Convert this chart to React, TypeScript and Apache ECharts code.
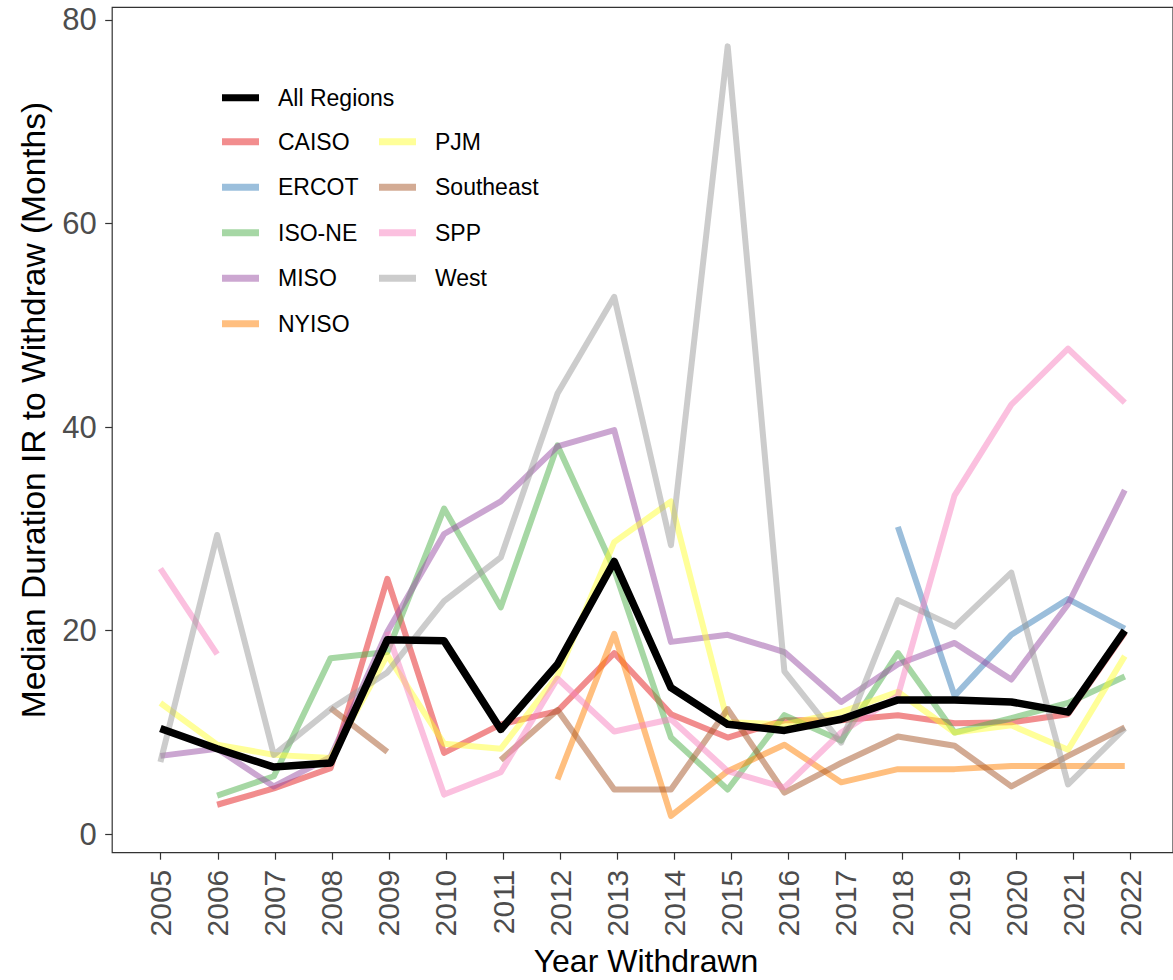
import React, { useEffect, useRef } from "react";
import * as echarts from "echarts";

const years = [2005, 2006, 2007, 2008, 2009, 2010, 2011, 2012, 2013, 2014, 2015, 2016, 2017, 2018, 2019, 2020, 2021, 2022];

const allRegions = [10.4, 8.4, 6.6, 7.0, 19.1, 19.0, 10.3, 16.7, 26.8, 14.4, 10.8, 10.2, 11.3, 13.2, 13.2, 13.0, 12.0, 20.0];
const caiso = [null, 2.9, 4.5, 6.5, 25.1, 8.0, 10.8, 12.1, 17.8, 11.8, 9.5, 11.2, 11.2, 11.7, 10.9, 11.0, 11.8, 19.8];
const ercot = [null, null, null, null, null, null, null, null, null, null, null, null, null, 30.2, 13.6, 19.6, 23.1, 20.2];
const isoNe = [null, 3.8, 5.7, 17.3, 17.9, 32.0, 22.3, 38.2, 26.0, 9.5, 4.4, 11.7, 9.2, 17.8, 10.0, 11.4, 12.9, 15.5];
const miso = [7.7, 8.4, 4.7, 7.6, 19.9, 29.5, 32.7, 38.1, 39.7, 18.9, 19.6, 17.9, 13.0, 16.7, 18.8, 15.2, 22.6, 33.8];
const nyiso = [null, null, null, null, null, null, null, 5.4, 19.7, 1.8, 6.2, 8.8, 5.1, 6.4, 6.4, 6.7, 6.7, 6.7];
const pjm = [12.9, 8.8, 7.8, 7.5, 17.6, 8.9, 8.4, 15.6, 28.7, 32.7, 11.0, 10.8, 12.0, 14.0, 10.0, 10.7, 8.3, 17.5];
const southeast = [null, null, null, 12.4, 8.1, null, 7.3, 12.2, 4.4, 4.4, 12.3, 4.1, 7.0, 9.6, 8.7, 4.7, 7.7, 10.5];
const spp = [26.1, 17.7, null, null, 19.9, 3.9, 6.1, 15.3, 10.1, 11.3, 6.2, 4.6, 10.0, 13.6, 33.3, 42.2, 47.7, 42.4];
const west = [7.1, 29.4, 7.8, 12.3, 15.9, 22.9, 27.2, 43.3, 52.8, 28.4, 77.4, 16.0, 9.0, 23.0, 20.4, 25.7, 4.9, 10.4];

const regionNames = ["CAISO", "ERCOT", "ISO-NE", "MISO", "NYISO", "PJM", "Southeast", "SPP", "West"];
const regionValues = [caiso, ercot, isoNe, miso, nyiso, pjm, southeast, spp, west];
const regionColors = ["#E41A1C", "#377EB8", "#4DAF4A", "#984EA3", "#FF7F00", "#FFFF33", "#A65628", "#F781BF", "#999999"];

const yTicks = [0, 20, 40, 60, 80];

const FONT = "'Liberation Sans', Arial, Helvetica, sans-serif";

function blendWhite(hex: string, a: number) {
  const r = parseInt(hex.slice(1, 3), 16);
  const g = parseInt(hex.slice(3, 5), 16);
  const b = parseInt(hex.slice(5, 7), 16);
  const m = (c: number) => Math.round(c * a + 255 * (1 - a));
  return `rgb(${m(r)},${m(g)},${m(b)})`;
}

export default function App() {
  const ref = useRef<HTMLDivElement>(null);

  useEffect(() => {
    document.body.style.margin = "0";
    if (!ref.current) return;
    const chart = echarts.init(ref.current, undefined, { renderer: "svg" });

    const toPairs = (arr: (number | null)[]) => years.map((yr, i) => [yr, arr[i] === null ? null : arr[i]]);

    const regionSeries = regionNames.map((name, i) => ({
      name,
      type: "line",
      xAxisIndex: 0,
      yAxisIndex: 0,
      data: toPairs(regionValues[i]),
      symbol: "none",
      showSymbol: false,
      silent: true,
      connectNulls: false,
      z: 2,
      itemStyle: { color: regionColors[i] },
      lineStyle: { color: regionColors[i], width: 6, opacity: 0.5, join: "round", cap: "butt" },
      emphasis: { disabled: true },
    }));

    const allSeries = {
      name: "All Regions",
      type: "line",
      xAxisIndex: 0,
      yAxisIndex: 0,
      data: toPairs(allRegions),
      symbol: "none",
      showSymbol: false,
      silent: true,
      z: 3,
      itemStyle: { color: "#000000" },
      lineStyle: { color: "#000000", width: 7.5, opacity: 1, join: "round", cap: "butt" },
      emphasis: { disabled: true },
    };

    const legendText = { fontSize: 23, color: "#000", fontFamily: FONT, padding: [0, 0, 0, 14], lineHeight: 24 };
    const legendBase = {
      orient: "vertical",
      icon: "rect",
      itemWidth: 37,
      itemHeight: 7,
      itemGap: 21.5,
      selectedMode: false,
      textStyle: legendText,
      padding: 0,
    };
    const legendItem = (name: string) => {
      const idx = regionNames.indexOf(name);
      const color = idx < 0 ? "#000000" : blendWhite(regionColors[idx], 0.5);
      return { name, itemStyle: { color, opacity: 1, borderWidth: 0 }, lineStyle: { width: 0 } };
    };

    const tickStyle = { color: "#333333", width: 1.2 };
    const labelStyle = { fontSize: 30, color: "#4d4d4d", fontFamily: FONT };

    chart.setOption({
      animation: false,
      backgroundColor: "#ffffff",
      grid: [
        { left: 112.2, top: 7.3, width: 1067, height: 845.4, show: true, borderColor: "#333333", borderWidth: 1.2, backgroundColor: "transparent" },
        { left: 112.2, top: 19.9, width: 1067, height: 814.4 },
        { left: 160.7, top: 7.3, width: 970, height: 845.4 },
      ],
      xAxis: [
        { gridIndex: 0, type: "value", min: 2004.15, max: 2022.85, show: false },
        { gridIndex: 1, type: "value", min: 0, max: 1, show: false },
        {
          gridIndex: 2,
          type: "value",
          min: years[0],
          max: years[years.length - 1],
          interval: 1,
          axisLine: { show: false },
          axisTick: { show: true, length: 7, lineStyle: tickStyle },
          axisLabel: { ...labelStyle, rotate: 90, margin: 17, formatter: (v: number) => String(v) },
          splitLine: { show: false },
        },
      ],
      yAxis: [
        { gridIndex: 0, type: "value", min: -1.81, max: 81.24, show: false },
        {
          gridIndex: 1,
          type: "value",
          min: yTicks[0],
          max: yTicks[yTicks.length - 1],
          interval: 20,
          axisLine: { show: false },
          axisTick: { show: true, length: 7, lineStyle: tickStyle },
          axisLabel: { ...labelStyle, fontSize: 31, margin: 15.5, formatter: (v: number) => String(v) },
          splitLine: { show: false },
        },
        { gridIndex: 2, type: "value", min: 0, max: 1, show: false },
      ],
      legend: [
        { ...legendBase, left: 222, top: 85.7, data: [legendItem("All Regions")] },
        { ...legendBase, left: 222, top: 129.7, data: ["CAISO", "ERCOT", "ISO-NE", "MISO", "NYISO"].map(legendItem) },
        { ...legendBase, left: 379, top: 129.7, data: ["PJM", "Southeast", "SPP", "West"].map(legendItem) },
      ],
      graphic: [
        {
          type: "text",
          x: 646,
          y: 961,
          style: { text: "Year Withdrawn", fontSize: 32, fill: "#000", fontFamily: FONT, align: "center", verticalAlign: "middle" },
        },
        {
          type: "text",
          x: 33,
          y: 410,
          rotation: Math.PI / 2,
          style: {
            text: "Median Duration IR to Withdraw (Months)",
            fontSize: 33.5,
            fill: "#000",
            fontFamily: FONT,
            align: "center",
            verticalAlign: "middle",
          },
        },
      ],
      series: [...regionSeries, allSeries],
    });

    return () => chart.dispose();
  }, []);

  return <div ref={ref} style={{ width: 1173, height: 980 }} />;
}
